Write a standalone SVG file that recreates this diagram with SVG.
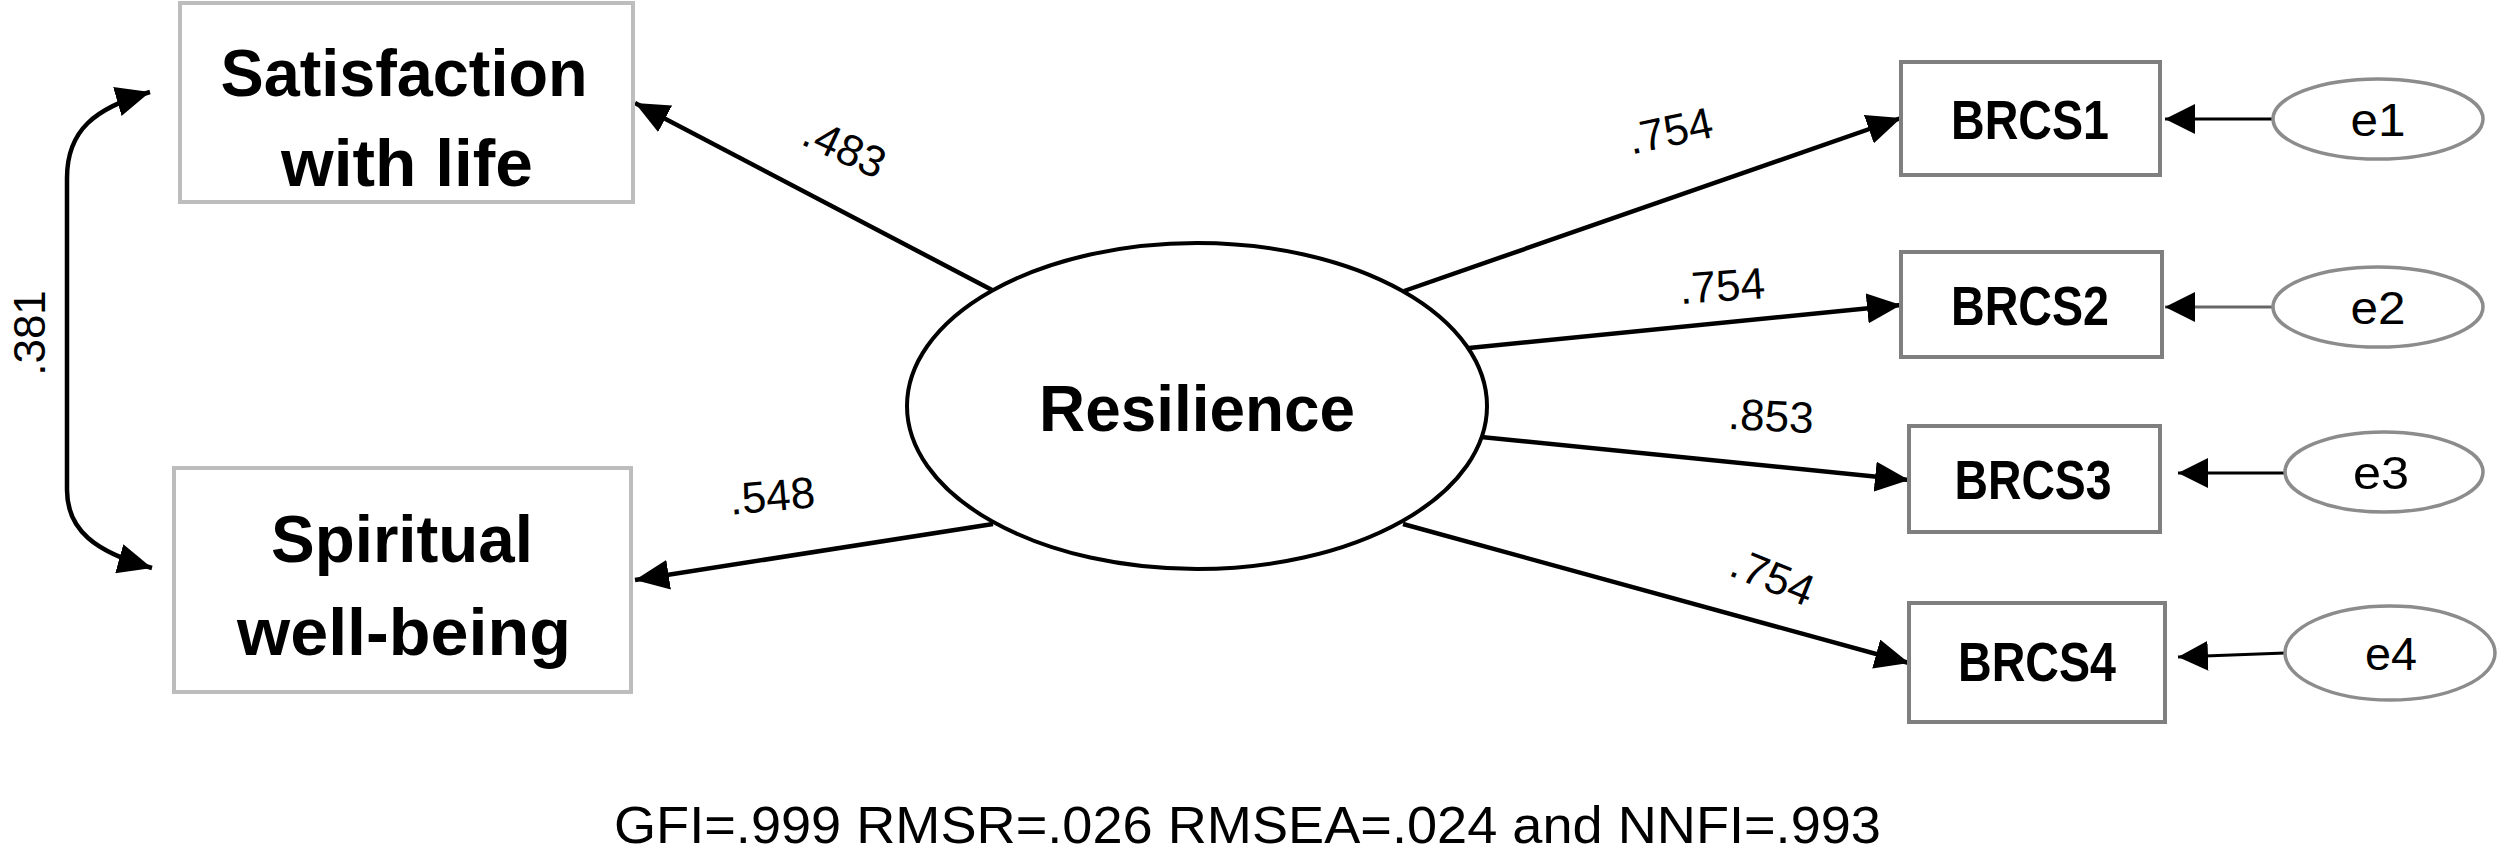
<svg xmlns="http://www.w3.org/2000/svg" width="2500" height="858" viewBox="0 0 2500 858">
<style>
.bg{fill:#fff}
.obs1{fill:#fff;stroke:#bdbdbd;stroke-width:4}
.obs2{fill:#fff;stroke:#7f7f7f;stroke-width:4}
.lat{fill:#fff;stroke:#000;stroke-width:4}
.err{fill:#fff;stroke:#8c8c8c;stroke-width:3.5}
.big{font-family:"Liberation Sans",Arial,sans-serif;font-weight:bold;fill:#000;text-anchor:middle}
.lbl{font-family:"Liberation Sans",Arial,sans-serif;font-size:44px;fill:#000;text-anchor:middle}
.ev{font-family:"Liberation Sans",Arial,sans-serif;font-size:46px;fill:#000;text-anchor:middle}
.ln{fill:none;stroke:#000;stroke-width:4.5}
.ln2{fill:none;stroke:#000;stroke-width:3}
</style>
<defs>
<marker id="ah" viewBox="0 0 34 30" refX="34" refY="15" markerWidth="34" markerHeight="30" markerUnits="userSpaceOnUse" orient="auto-start-reverse">
<path d="M0,0 L34,15 L0,30 z" fill="#000"/>
</marker>
<marker id="ahs" viewBox="0 0 30 30" refX="30" refY="15" markerWidth="30" markerHeight="30" markerUnits="userSpaceOnUse" orient="auto">
<path d="M0,0 L30,15 L0,30 z" fill="#000"/>
</marker>
</defs>
<rect class="bg" x="0" y="0" width="2500" height="858"/>

<g id="connectors">
<path class="ln" d="M150,92 C95,108 67,130 67,178 L67,490 C67,530 95,552 152,568" marker-start="url(#ah)" marker-end="url(#ah)"/>
<line class="ln" x1="992" y1="290" x2="635" y2="103" marker-end="url(#ah)"/>
<line class="ln" x1="993" y1="524" x2="635" y2="580" marker-end="url(#ah)"/>
<line class="ln" x1="1404" y1="291" x2="1901" y2="118" marker-end="url(#ah)"/>
<line class="ln" x1="1469" y1="348" x2="1901" y2="305" marker-end="url(#ah)"/>
<line class="ln" x1="1481" y1="437" x2="1909" y2="480" marker-end="url(#ah)"/>
<line class="ln" x1="1403" y1="524" x2="1909" y2="663" marker-end="url(#ah)"/>
<line class="ln2" x1="2272" y1="119" x2="2165" y2="119" marker-end="url(#ahs)"/>
<line class="ln2" x1="2272" y1="307" x2="2165" y2="307" style="stroke:#666" marker-end="url(#ahs)"/>
<line class="ln2" x1="2285" y1="473" x2="2178" y2="473" marker-end="url(#ahs)"/>
<line class="ln2" x1="2285" y1="653" x2="2178" y2="657" marker-end="url(#ahs)"/>
<text class="lbl" transform="translate(45,333) rotate(-90)">.381</text>
<text class="lbl" transform="translate(845,147) rotate(25)" y="16">.483</text>
<text class="lbl" transform="translate(772,495) rotate(-5)" y="16">.548</text>
<text class="lbl" transform="translate(1670,130) rotate(-12)" y="16">.754</text>
<text class="lbl" transform="translate(1722,285) rotate(-4)" y="16">.754</text>
<text class="lbl" transform="translate(1771,415) rotate(3)" y="16">.853</text>
<text class="lbl" transform="translate(1773,576) rotate(22)" y="16">.754</text>
</g>

<g id="satisfaction">
<rect class="obs1" x="180" y="3" width="453" height="199"/>
<text class="big" x="404" y="96" font-size="66" textLength="367" lengthAdjust="spacingAndGlyphs">Satisfaction</text>
<text class="big" x="407" y="186" font-size="66" textLength="252" lengthAdjust="spacingAndGlyphs">with life</text>
</g>

<g id="spiritual">
<rect class="obs1" x="174" y="468" width="457" height="224"/>
<text class="big" x="402" y="562" font-size="66" textLength="262" lengthAdjust="spacingAndGlyphs">Spiritual</text>
<text class="big" x="404" y="655" font-size="66" textLength="334" lengthAdjust="spacingAndGlyphs">well-being</text>
</g>

<g id="resilience">
<ellipse class="lat" cx="1197" cy="406" rx="290" ry="163"/>
<text class="big" x="1197" y="431" font-size="65" textLength="316" lengthAdjust="spacingAndGlyphs">Resilience</text>
</g>

<g id="brcs1">
<rect class="obs2" x="1901" y="62" width="259" height="113"/>
<text class="big" x="2030" y="139" font-size="56" textLength="158" lengthAdjust="spacingAndGlyphs">BRCS1</text>
</g>
<g id="brcs2">
<rect class="obs2" x="1901" y="252" width="261" height="105"/>
<text class="big" x="2030" y="325" font-size="56" textLength="158" lengthAdjust="spacingAndGlyphs">BRCS2</text>
</g>
<g id="brcs3">
<rect class="obs2" x="1909" y="426" width="251" height="106"/>
<text class="big" x="2033" y="499" font-size="56" textLength="157" lengthAdjust="spacingAndGlyphs">BRCS3</text>
</g>
<g id="brcs4">
<rect class="obs2" x="1909" y="603" width="256" height="119"/>
<text class="big" x="2037" y="681" font-size="56" textLength="158" lengthAdjust="spacingAndGlyphs">BRCS4</text>
</g>

<g id="e1">
<ellipse class="err" cx="2378" cy="119" rx="105" ry="40"/>
<text class="ev" x="2378" y="136" textLength="55" lengthAdjust="spacingAndGlyphs">e1</text>
</g>
<g id="e2">
<ellipse class="err" cx="2378" cy="307" rx="105" ry="40"/>
<text class="ev" x="2378" y="324" textLength="55" lengthAdjust="spacingAndGlyphs">e2</text>
</g>
<g id="e3">
<ellipse class="err" cx="2384" cy="472" rx="99" ry="40"/>
<text class="ev" x="2381" y="489" textLength="56" lengthAdjust="spacingAndGlyphs">e3</text>
</g>
<g id="e4">
<ellipse class="err" cx="2390" cy="653" rx="105" ry="47"/>
<text class="ev" x="2391" y="670" textLength="52" lengthAdjust="spacingAndGlyphs">e4</text>
</g>

<g id="fit">
<text x="614" y="843" font-family="'Liberation Sans',Arial,sans-serif" font-size="52" fill="#000" textLength="1267" lengthAdjust="spacingAndGlyphs">GFI=.999 RMSR=.026 RMSEA=.024 and NNFI=.993</text>
</g>
</svg>
